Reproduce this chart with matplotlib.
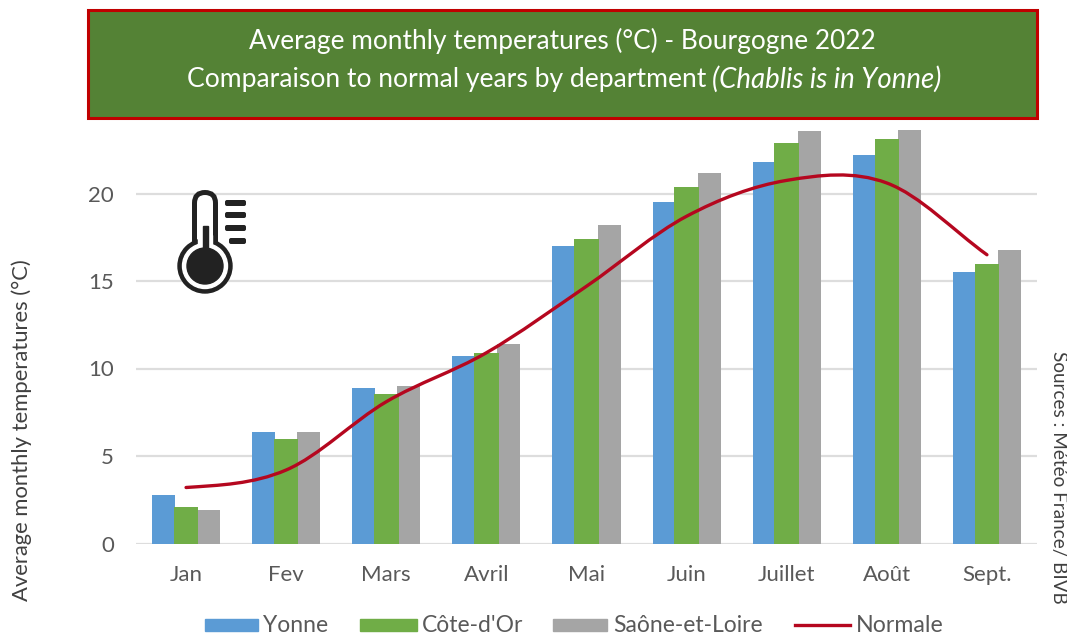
import matplotlib
matplotlib.use("Agg")
import matplotlib.pyplot as plt
from matplotlib.patches import Rectangle, Circle, FancyBboxPatch, PathPatch
from matplotlib.path import Path
import numpy as np

# --- data ---
months = ["Jan", "Fev", "Mars", "Avril", "Mai", "Juin", "Juillet", "Août", "Sept."]
yonne = [2.8, 6.4, 8.9, 10.7, 17.0, 19.5, 21.8, 22.2, 15.5]
cote_dor = [2.1, 5.95, 8.55, 10.9, 17.4, 20.4, 22.9, 23.1, 15.95]
saone = [1.9, 6.4, 9.0, 11.4, 18.2, 21.15, 23.55, 23.65, 16.75]
normale = [3.2, 4.2, 8.1, 10.9, 14.7, 18.7, 20.75, 20.6, 16.5]
y_ticks = [0, 5, 10, 15, 20]

FONT = "Lato"
W, H = 1067, 635
plt.rcParams["font.family"] = FONT

fig = plt.figure(figsize=(W / 100, H / 100), dpi=100)

# plot area, in figure pixels
left, right, y0, y_top = 136, 1037, 543.5, 123.5
ax = fig.add_axes([left / W, 1 - y0 / H, (right - left) / W, (y0 - y_top) / H])

x = np.arange(len(months))
ax.bar(x - 0.225, yonne, 0.23, color="#5B9BD5", label="Yonne", zorder=2)
ax.bar(x + 0.225, saone, 0.23, color="#A5A5A5", label="Saône-et-Loire", zorder=2)
ax.bar(x, cote_dor, 0.245, color="#70AD47", label="Côte-d'Or", zorder=3)

# smooth line like the Excel one: bezier through the monthly values
slopes = np.gradient(normale)
slopes[0] = slopes[0] * 0.4
verts = [(x[0], normale[0])]
codes = [Path.MOVETO]
for i in range(len(x) - 1):
    verts += [(x[i] + 1 / 3, normale[i] + slopes[i] / 3),
              (x[i + 1] - 1 / 3, normale[i + 1] - slopes[i + 1] / 3),
              (x[i + 1], normale[i + 1])]
    codes += [Path.CURVE4] * 3
ax.add_patch(PathPatch(Path(verts, codes), fill=False, edgecolor="#B5071F",
                       linewidth=2.4, capstyle="round", zorder=4))

ax.set_xlim(-0.5, 8.5)
ax.set_ylim(0, 24)
ax.set_xticks(x, months)
ax.set_yticks(y_ticks)
ax.tick_params(axis="both", length=0, labelsize=16, labelcolor="#595959")
ax.tick_params(axis="x", pad=15.5)
ax.tick_params(axis="y", pad=16)
ax.grid(axis="y", color="#DDDDDD", linewidth=1.6, zorder=0)
ax.set_axisbelow(True)
for side in ["top", "right", "left", "bottom"]:
    ax.spines[side].set_visible(False)

# --- overlay in pixel coordinates: title box, icon, side texts, legend ---
ov = fig.add_axes([0, 0, 1, 1], zorder=5)
ov.set_xlim(0, W)
ov.set_ylim(H, 0)
ov.axis("off")
ov.patch.set_alpha(0)

ov.add_patch(Rectangle((88, 10), 949, 108, facecolor="#548235", edgecolor="#C00000", linewidth=2.2))
ov.text(562, 40.5, "Average monthly temperatures (°C) - Bourgogne 2022", color="white",
        fontsize=18.9, ha="center", va="center")
ov.text(706, 79.5, "Comparaison to normal years by department", color="white",
        fontsize=19.1, ha="right", va="center")
ov.text(712, 79.5, "(Chablis is in Yonne)", color="white", fontsize=19.9,
        style="italic", ha="left", va="center")

ov.text(22, 430, "Average monthly temperatures (°C)", color="#404040", fontsize=15.8,
        rotation=90, ha="center", va="center")
ov.text(1058, 477, "Sources : Météo France/ BIVB", color="#404040", fontsize=13.6,
        rotation=270, ha="center", va="center")

# thermometer icon
ICON = "#222222"
ov.add_patch(FancyBboxPatch((194.5, 192.5), 21, 70, boxstyle="round,pad=0,rounding_size=10.5",
                            facecolor="white", edgecolor=ICON, linewidth=3.6))
ov.add_patch(Circle((205, 266), 27, color=ICON))
ov.add_patch(Circle((205, 266), 22.5, color="white"))
ov.add_patch(Rectangle((198, 235), 14, 12, color="white"))
ov.add_patch(Circle((205, 266), 18, color=ICON))
ov.add_patch(Rectangle((202.5, 226), 5.5, 30, color=ICON))
for ty, tx in zip([203, 215, 228, 241], [225, 225, 225, 229]):
    ov.add_patch(FancyBboxPatch((tx, ty - 3), 246 - tx, 6, boxstyle="round,pad=0,rounding_size=2",
                                facecolor=ICON, edgecolor="none"))

# legend, placed by hand to hit the spaced-out entries
LEG_Y = 625
for x0, x1, col, name, tx in [(205, 258, "#5B9BD5", "Yonne", 263),
                              (360, 417, "#70AD47", "Côte-d'Or", 422),
                              (553, 607, "#A5A5A5", "Saône-et-Loire", 613)]:
    ov.add_patch(Rectangle((x0, LEG_Y - 6), x1 - x0, 12, color=col))
    ov.text(tx, LEG_Y + 1, name, color="#595959", fontsize=16.5, ha="left", va="center")
ov.plot([795, 850], [LEG_Y, LEG_Y], color="#B5071F", linewidth=2.4)
ov.text(856, LEG_Y + 1, "Normale", color="#595959", fontsize=16.7, ha="left", va="center")

fig.savefig("out.png", dpi=100)
